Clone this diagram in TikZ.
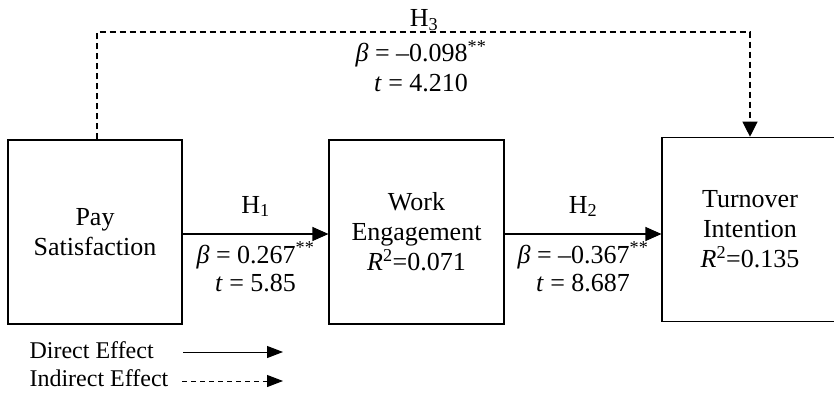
\documentclass[tikz,border=0pt]{standalone}
\usepackage{fontspec}
\setmainfont{Liberation Serif}
\usetikzlibrary{arrows.meta}

\begin{document}
\begin{tikzpicture}[x=1pt, y=-1pt, line width=1.1pt,
  varbox/.style={draw, line width=1.1pt, align=center, inner sep=0pt, font=\fontsize{26}{30}\selectfont},
  coef/.style={anchor=base, inner sep=0pt, font=\fontsize{26}{30}\selectfont},
  legtext/.style={anchor=base west, inner sep=0pt, font=\fontsize{24}{28}\selectfont},
  direct/.style={-{Triangle[length=16pt,width=14pt]}},
  indirect/.style={dash pattern=on 6pt off 4pt, -{Triangle[length=15pt,width=15pt]}},
  legdirect/.style={line width=1pt, -{Triangle[length=16pt,width=12pt]}},
  legindirect/.style={line width=1pt, dash pattern=on 5pt off 4pt, -{Triangle[length=16pt,width=12pt]}}]

  %% ════ 三个变量框 ════
  \node[varbox, minimum width=174pt, minimum height=184pt] (pay) at (95,232) {Pay\\Satisfaction};
  \node[varbox, minimum width=175pt, minimum height=184pt] (eng) at (416.5,232) {Work\\Engagement\\\textit{R}\textsuperscript{2}=0.071};
  \node[varbox, minimum width=176pt, minimum height=184.5pt] (turn) at (750,229.5) {Turnover\\Intention\\\textit{R}\textsuperscript{2}=0.135};

  %% ════ 直接效应箭头 H1 / H2 ════
  \draw[direct] ([yshift=-2pt]pay.east) -- ([yshift=-2pt]pay.east -| eng.west);
  \draw[direct] ([yshift=-2pt]eng.east) -- ([yshift=-2pt]eng.east -| turn.west);

  %% ════ 间接效应 H3（虚线折线）════
  \coordinate (h3corner) at (97,32);
  \draw[indirect] (pay.north -| h3corner) -- (h3corner) -| (turn.north);

  %% ════ 系数标签 ════
  \node[coef] (h3lab) at (424,27) {H\textsubscript{3}};
  \node[coef] (h3beta) at (421,62) {\textit{β} = –0.098\textsuperscript{**}};
  \node[coef] (h3t) at (421,92) {\textit{t} = 4.210};

  \node[coef] (h1lab) at (255.5,213) {H\textsubscript{1}};
  \node[coef] (h1beta) at (255.5,263) {\textit{β} = 0.267\textsuperscript{**}};
  \node[coef] (h1t) at (255.5,291) {\textit{t} = 5.85};

  \node[coef] (h2lab) at (583,213) {H\textsubscript{2}};
  \node[coef] (h2beta) at (583,263) {\textit{β} = –0.367\textsuperscript{**}};
  \node[coef] (h2t) at (583,291) {\textit{t} = 8.687};

  %% ════ 图例 ════
  \node[legtext] (legdir) at (29,358) {Direct Effect};
  \node[legtext] (legind) at (29,386) {Indirect Effect};
  \coordinate (dirstart) at (183,352);
  \coordinate (dirend) at (283,352);
  \coordinate (indstart) at (182,381);
  \coordinate (indend) at (283,381);
  \draw[legdirect] (dirstart) -- (dirend);
  \draw[legindirect] (indstart) -- (indend);

  % 钉死画布
  \pgfresetboundingbox
  \path[use as bounding box] (0,0) rectangle (834,393);
\end{tikzpicture}
\end{document}
